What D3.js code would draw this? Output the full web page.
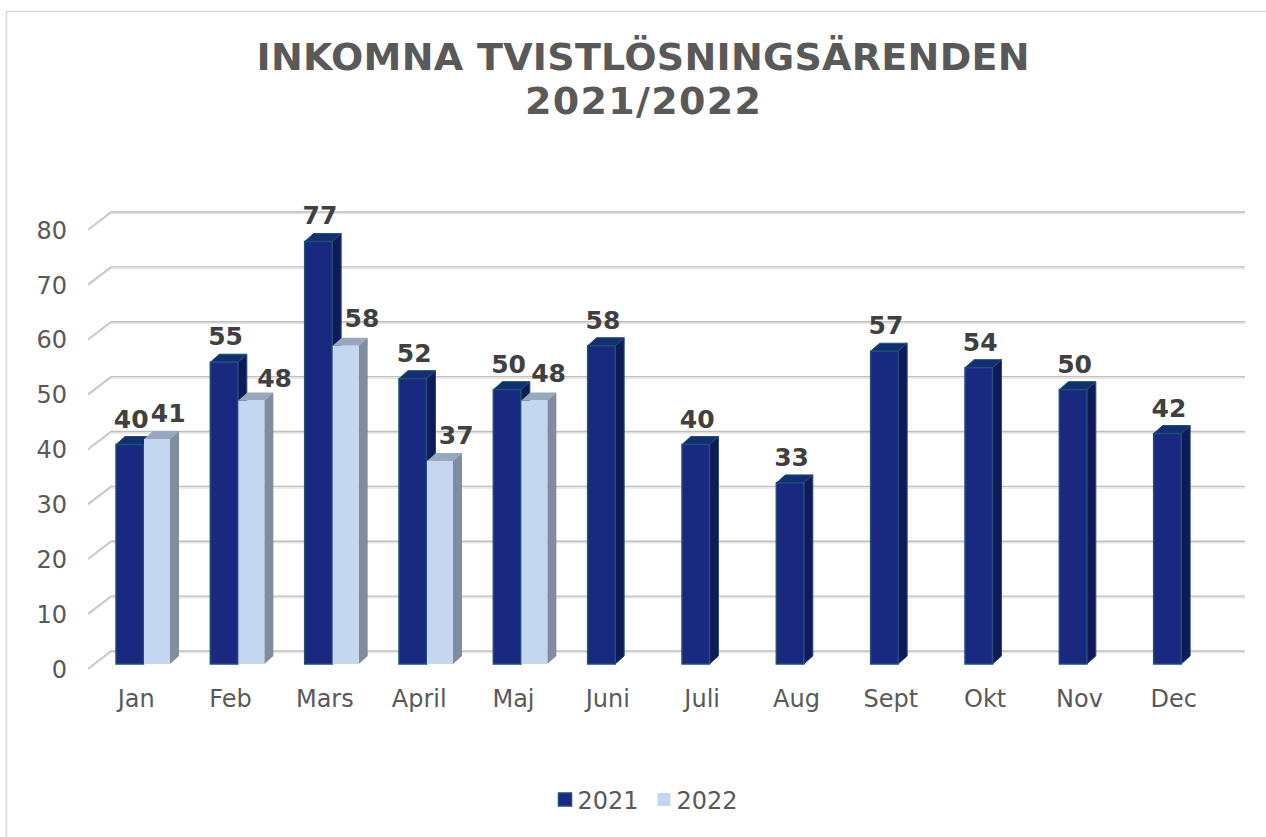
<!DOCTYPE html>
<html>
<head>
<meta charset="utf-8">
<script src="https://cdnjs.cloudflare.com/ajax/libs/d3/7.8.5/d3.min.js"></script>
<style>
    html, body { margin: 0; padding: 0; background: #fff; }
    svg { display: block; }
    text { font-family: "DejaVu Sans", sans-serif; }
    .axisLabel text { fill: #595959; font-size: 24px; }
    .axisLabel path, .axisLabel line { display: none; }
    .title { fill: #595959; font-size: 38px; font-weight: bold; text-anchor: middle; }
    .dataLabel { fill: #404040; font-size: 25px; font-weight: bold; text-anchor: middle; }
    .legendText { fill: #595959; font-size: 24px; }
</style>
</head>
<body>
<div id="chart"></div>
<script>
const categories = ["Jan", "Feb", "Mars", "April", "Maj", "Juni", "Juli", "Aug", "Sept", "Okt", "Nov", "Dec"];
const values2021 = [40, 55, 77, 52, 50, 58, 40, 33, 57, 54, 50, 42];
const values2022 = [41, 48, 58, 37, 48, null, null, null, null, null, null, null];
const yTicks = [0, 10, 20, 30, 40, 50, 60, 70, 80];
const titleLines = ["INKOMNA TVISTLÖSNINGSÄRENDEN", "2021/2022"];
const seriesNames = ["2021", "2022"];

const colors = {
    2021: {front: "#1a2980", top: "#12306f", side: "#0f1b58", stroke: "#1f4e79"},
    2022: {front: "#c5d7f0", top: "#98a8bd", side: "#7f8d9f", stroke: "none"}
};

const width = 1266, height = 837;
const wall = {dx: 23, dy: -17.5};   // how far the back wall sits from the front edge of the floor
const bar = {dx: 9, dy: -8, width: 27.5, inset: 26, lift: 4.5};

const svg = d3.select("#chart").append("svg")
    .attr("width", width)
    .attr("height", height);

// frame, only top and left show in the picture
svg.append("path")
    .attr("d", "M6.5,837V11.5H1266")
    .attr("fill", "none")
    .attr("stroke", "#d9d9d9")
    .attr("stroke-width", 1.6);

// Verdana runs wider than DejaVu, so each title line gets stretched to the width it has in the picture
const titleWidths = [773, 236];
svg.selectAll(".title")
    .data(titleLines)
    .enter().append("text")
        .classed("title", true)
        .attr("x", 643)
        .attr("y", (d, i) => 70 + i * 44)
        .attr("textLength", (d, i) => titleWidths[i])
        .attr("lengthAdjust", "spacing")
        .text(d => d);

const xScale = d3.scaleBand().domain(categories).range([89, 1221]);
const yScale = d3.scaleLinear().domain([0, 80]).range([668.5, 229.5]);

// gridlines: diagonal on the side wall, then along the back wall
const gridGroup = svg.append("g").classed("gridGroup", true);
const gridPath = d => {
    const y = yScale(d);
    return `M88,${y}L${88 + wall.dx},${y + wall.dy}H1245`;
};
gridGroup.selectAll(".gridShadow")
    .data(yTicks)
    .enter().append("path")
        .attr("d", gridPath)
        .attr("transform", "translate(0,1.5)")
        .attr("fill", "none")
        .attr("stroke", "#e6e6e6")
        .attr("stroke-width", 1.5);
gridGroup.selectAll(".gridLine")
    .data(yTicks)
    .enter().append("path")
        .attr("d", gridPath)
        .attr("fill", "none")
        .attr("stroke", "#bfbfbf")
        .attr("stroke-width", 1.3);

svg.append("g")
    .classed("axisLabel", true)
    .attr("transform", "translate(73,1)")
    .call(d3.axisLeft(yScale).tickValues(yTicks).tickSize(0).tickPadding(6))
    .call(g => g.selectAll("text").attr("dy", "0.32em"));

svg.append("g")
    .classed("axisLabel", true)
    .attr("transform", "translate(0,688)")
    .call(d3.axisBottom(xScale).tickSize(0).tickPadding(0))
    .call(g => g.selectAll("text").attr("dy", "0.8em"));

// a box is front rect + top and side parallelograms
function drawBox(parent, x, boxWidth, value, c){
    const base = yScale(0) - bar.lift;
    const top = yScale(value) - bar.lift;
    const right = x + boxWidth;
    parent.append("path")
        .attr("d", `M${x},${top}l${bar.dx},${bar.dy}H${right + bar.dx}L${right},${top}Z`)
        .attr("fill", c.top)
        .attr("stroke", c.stroke);
    parent.append("path")
        .attr("d", `M${right},${top}l${bar.dx},${bar.dy}V${base + bar.dy}L${right},${base}Z`)
        .attr("fill", c.side)
        .attr("stroke", c.stroke);
    parent.append("rect")
        .attr("x", x)
        .attr("y", top)
        .attr("width", boxWidth)
        .attr("height", base - top)
        .attr("fill", c.front)
        .attr("stroke", c.stroke)
        .attr("stroke-width", 1.5);
}

const barGroup = svg.append("g").classed("barGroup", true);
categories.forEach((cat, i) => {
    const x = xScale(cat) + bar.inset + 1;
    drawBox(barGroup, x, bar.width, values2021[i], colors[2021]);
    if(values2022[i] !== null){
        drawBox(barGroup, x + bar.width + 0.5, bar.width - 1.5, values2022[i], colors[2022]);
    }
});

// labels of the 2022 bars were dragged around by hand in the original
const nudge2022 = {Jan: [11, 0], Feb: [23, 3], Mars: [16, -2], April: [16, 0], Maj: [14, -2]};

const labelGroup = svg.append("g").classed("labelGroup", true);
categories.forEach((cat, i) => {
    const x = xScale(cat) + bar.inset + 1;
    labelGroup.append("text")
        .classed("dataLabel", true)
        .attr("x", x + bar.width / 2 + 1.5)
        .attr("y", yScale(values2021[i]) - bar.lift - 17)
        .text(values2021[i]);
    if(values2022[i] !== null){
        const [ox, oy] = nudge2022[cat];
        labelGroup.append("text")
            .classed("dataLabel", true)
            .attr("x", x + bar.width * 1.5 + ox)
            .attr("y", yScale(values2022[i]) - bar.lift - 17 + oy)
            .text(values2022[i]);
    }
});

const legend = svg.append("g").classed("legend", true);
seriesNames.forEach((name, i) => {
    const x = 558.5 + i * 99;
    legend.append("rect")
        .attr("x", x)
        .attr("y", 793)
        .attr("width", 13)
        .attr("height", 13)
        .attr("fill", colors[name].front)
        .attr("stroke", colors[name].stroke)
        .attr("stroke-width", 1.5);
    legend.append("text")
        .classed("legendText", true)
        .attr("x", x + 19)
        .attr("y", 809)
        .text(name);
});
</script>
</body>
</html>
